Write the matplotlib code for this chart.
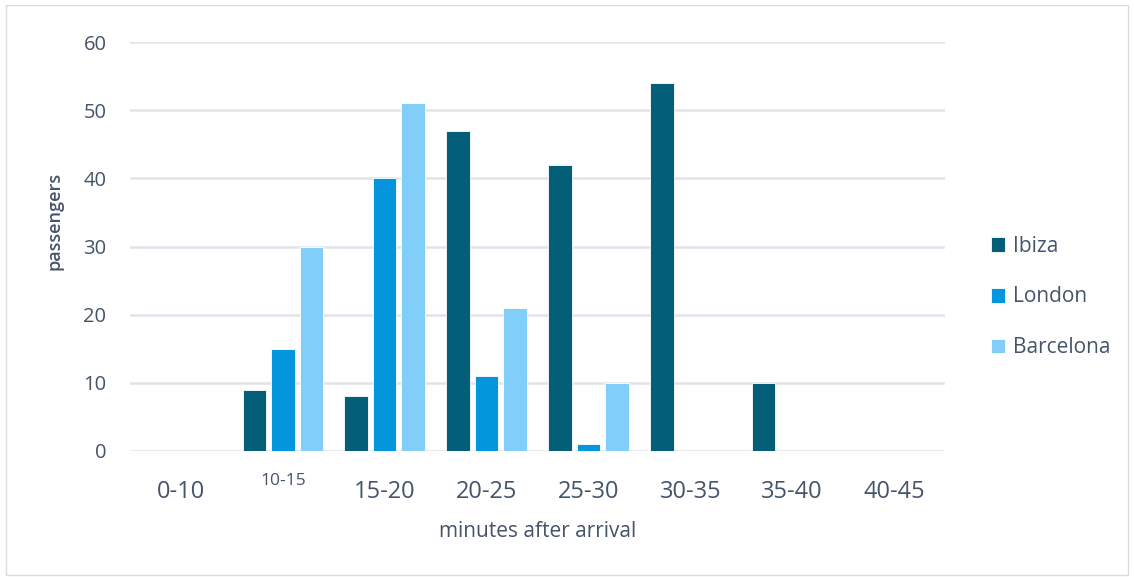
import numpy as np
import matplotlib.pyplot as plt
from matplotlib.patches import Rectangle

# passengers leaving per time window, by origin
bins = ["0-10", "10-15", "15-20", "20-25", "25-30", "30-35", "35-40", "40-45"]
ibiza = [0, 9, 8, 47, 42, 54, 10, 0]
london = [0, 15, 40, 11, 1, 0, 0, 0]
barcelona = [0, 30, 51, 21, 10, 0, 0, 0]

series = [("Ibiza", ibiza, "#035e78"),
          ("London", london, "#0396dc"),
          ("Barcelona", barcelona, "#81cff9")]

txt = "#44546a"
plt.rcParams['font.family'] = ['Open Sans', 'DejaVu Sans']

fig = plt.figure(figsize=(11.34, 5.79), dpi=100)
ax = fig.add_axes([130/1134, 1-451/579, (945-130)/1134, (451-42)/579])

x = np.arange(len(bins))
w = 0.23
step = 0.28
for i, (name, vals, col) in enumerate(series):
    ax.bar(x + (i-1)*step, vals, w, color=col, label=name,
           edgecolor="#ffffff", linewidth=0.6, zorder=3)

ax.set_xlim(-0.5, len(bins)-0.5)
ax.set_ylim(0, 60)
ax.set_yticks(range(0, 61, 10))
ax.yaxis.grid(True, color="#e1e4ea", linewidth=1.8, zorder=0)
ax.set_axisbelow(True)
for s in ax.spines.values():
    s.set_visible(False)
ax.tick_params(axis="both", length=0)
ax.tick_params(axis="y", pad=17, labelsize=14.5, labelcolor=txt)

ax.set_xticks(x)
ax.set_xticklabels(bins, fontsize=17, color=txt)
ax.tick_params(axis="x", pad=21)
# the second window label sits smaller and higher
lab = ax.get_xticklabels()[1]
lab.set_fontsize(12.5)
lab.set_y(0.018)

ax.set_ylabel("passengers", fontsize=13, color=txt, fontweight="semibold")
ax.yaxis.set_label_coords(-0.082, 0.562)
ax.set_xlabel("minutes after arrival", fontsize=15, color=txt, labelpad=12)

fig.legend(loc="center left", bbox_to_anchor=(972/1134, 1-297/579), frameon=False,
           fontsize=15, labelcolor=txt, handlelength=0.7, handleheight=0.7,
           handletextpad=0.35, labelspacing=1.42)

fig.patches.append(Rectangle((6/1134, 4/579), 1122/1134, 570/579,
                             transform=fig.transFigure, fill=False,
                             edgecolor="#d9dde3", linewidth=1))

fig.savefig("out.png", dpi=100)
